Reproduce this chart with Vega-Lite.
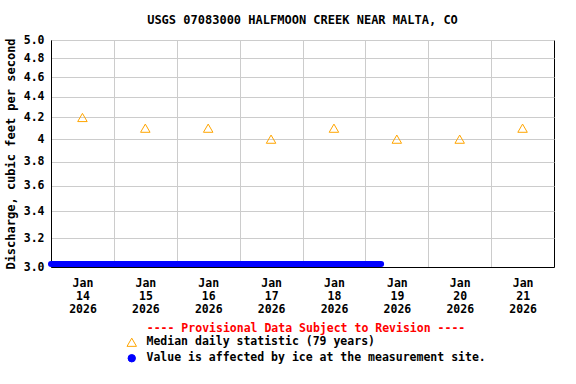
{
  "$schema": "https://vega.github.io/schema/vega-lite/v6.json",
  "width": 503,
  "height": 227,
  "autosize": {"type": "none"},
  "padding": {"left": 51, "top": 40, "right": 22, "bottom": 117},
  "background": "white",
  "title": {
    "text": "USGS 07083000 HALFMOON CREEK NEAR MALTA, CO",
    "font": "DejaVu Sans Mono",
    "fontSize": 12,
    "fontWeight": "bold",
    "anchor": "middle",
    "offset": 7,
    "color": "black"
  },
  "config": {
    "view": {"stroke": "black", "strokeWidth": 1},
    "axis": {
      "labelFont": "DejaVu Sans Mono",
      "labelFontSize": 11.5,
      "labelFontWeight": "bold",
      "labelColor": "black",
      "titleFont": "DejaVu Sans Mono",
      "titleFontSize": 12,
      "titleFontWeight": "bold",
      "titleColor": "black",
      "gridColor": "#cccccc",
      "gridWidth": 1,
      "domainColor": "black",
      "ticks": false
    },
    "legend": {
      "orient": "none",
      "legendX": 75,
      "legendY": 283,
      "titleColor": "red",
      "titleFont": "DejaVu Sans Mono",
      "titleFontSize": 11.5,
      "titleFontWeight": "bold",
      "titleAnchor": "middle",
      "titlePadding": 2,
      "titleLimit": 0,
      "labelFont": "DejaVu Sans Mono",
      "labelFontSize": 11.5,
      "labelFontWeight": "bold",
      "labelColor": "black",
      "labelLimit": 0,
      "labelOffset": 9,
      "rowPadding": 3,
      "symbolStrokeWidth": 1,
      "symbolOpacity": 1
    }
  },
  "layer": [
    {
      "data": {
        "values": [
          {"date": "2026-01-14T00:00:00", "value": 3.02, "series": "Value is affected by ice at the measurement site."},
          {"date": "2026-01-15T00:00:00", "value": 3.02, "series": "Value is affected by ice at the measurement site."},
          {"date": "2026-01-16T00:00:00", "value": 3.02, "series": "Value is affected by ice at the measurement site."},
          {"date": "2026-01-17T00:00:00", "value": 3.02, "series": "Value is affected by ice at the measurement site."},
          {"date": "2026-01-18T00:00:00", "value": 3.02, "series": "Value is affected by ice at the measurement site."},
          {"date": "2026-01-19T00:00:00", "value": 3.02, "series": "Value is affected by ice at the measurement site."},
          {"date": "2026-01-19T06:00:00", "value": 3.02, "series": "Value is affected by ice at the measurement site."}
        ]
      },
      "mark": {"type": "line", "strokeWidth": 6, "strokeCap": "round", "clip": false, "color": "#0000FF"},
      "encoding": {
        "x": {
          "field": "date",
          "type": "temporal",
          "scale": {"domain": [{"year": 2026, "month": 1, "date": 14}, {"year": 2026, "month": 1, "date": 22}]},
          "axis": {
            "title": null,
            "values": [
              {"year": 2026, "month": 1, "date": 14},
              {"year": 2026, "month": 1, "date": 15},
              {"year": 2026, "month": 1, "date": 16},
              {"year": 2026, "month": 1, "date": 17},
              {"year": 2026, "month": 1, "date": 18},
              {"year": 2026, "month": 1, "date": 19},
              {"year": 2026, "month": 1, "date": 20},
              {"year": 2026, "month": 1, "date": 21}
            ],
            "labelExpr": "[timeFormat(datum.value, '%b'), timeFormat(datum.value, '%-d'), timeFormat(datum.value, '%Y')]",
            "labelOffset": 31.5,
            "labelFlush": false,
            "labelOverlap": false,
            "labelBound": false,
            "labelPadding": 10,
            "labelBaseline": "top",
            "labelLineHeight": 13,
            "labelAlign": "center",
            "grid": true
          }
        },
        "y": {
          "field": "value",
          "type": "quantitative",
          "scale": {"type": "log", "domain": [3, 5], "nice": false, "zero": false},
          "axis": {
            "title": "Discharge, cubic feet per second",
            "values": [3.0, 3.2, 3.4, 3.6, 3.8, 4.0, 4.2, 4.4, 4.6, 4.8, 5.0],
            "labelExpr": "datum.value == 4 ? '4' : format(datum.value, '.1f')",
            "labelPadding": 7,
            "titlePadding": 6,
            "grid": true
          }
        }
      }
    },
    {
      "data": {
        "values": [
          {"date": "2026-01-14T12:00:00", "value": 4.2, "series": "Median daily statistic (79 years)"},
          {"date": "2026-01-15T12:00:00", "value": 4.1, "series": "Median daily statistic (79 years)"},
          {"date": "2026-01-16T12:00:00", "value": 4.1, "series": "Median daily statistic (79 years)"},
          {"date": "2026-01-17T12:00:00", "value": 4.0, "series": "Median daily statistic (79 years)"},
          {"date": "2026-01-18T12:00:00", "value": 4.1, "series": "Median daily statistic (79 years)"},
          {"date": "2026-01-19T12:00:00", "value": 4.0, "series": "Median daily statistic (79 years)"},
          {"date": "2026-01-20T12:00:00", "value": 4.0, "series": "Median daily statistic (79 years)"},
          {"date": "2026-01-21T12:00:00", "value": 4.1, "series": "Median daily statistic (79 years)"}
        ]
      },
      "mark": {"type": "point", "strokeWidth": 1, "opacity": 1},
      "encoding": {
        "x": {"field": "date", "type": "temporal"},
        "y": {"field": "value", "type": "quantitative"},
        "stroke": {
          "field": "series",
          "type": "nominal",
          "scale": {
            "domain": ["Median daily statistic (79 years)", "Value is affected by ice at the measurement site."],
            "range": ["#FFA500", "#0000FF"]
          },
          "legend": {"title": "---- Provisional Data Subject to Revision ----"}
        },
        "fill": {
          "field": "series",
          "type": "nominal",
          "scale": {
            "domain": ["Median daily statistic (79 years)", "Value is affected by ice at the measurement site."],
            "range": ["transparent", "#0000FF"]
          },
          "legend": {"title": "---- Provisional Data Subject to Revision ----"}
        },
        "shape": {
          "field": "series",
          "type": "nominal",
          "scale": {
            "domain": ["Median daily statistic (79 years)", "Value is affected by ice at the measurement site."],
            "range": ["triangle-up", "circle"]
          },
          "legend": {"title": "---- Provisional Data Subject to Revision ----"}
        },
        "size": {
          "field": "series",
          "type": "ordinal",
          "scale": {
            "domain": ["Median daily statistic (79 years)", "Value is affected by ice at the measurement site."],
            "range": [90, 55]
          },
          "legend": {"title": "---- Provisional Data Subject to Revision ----"}
        }
      }
    }
  ]
}
